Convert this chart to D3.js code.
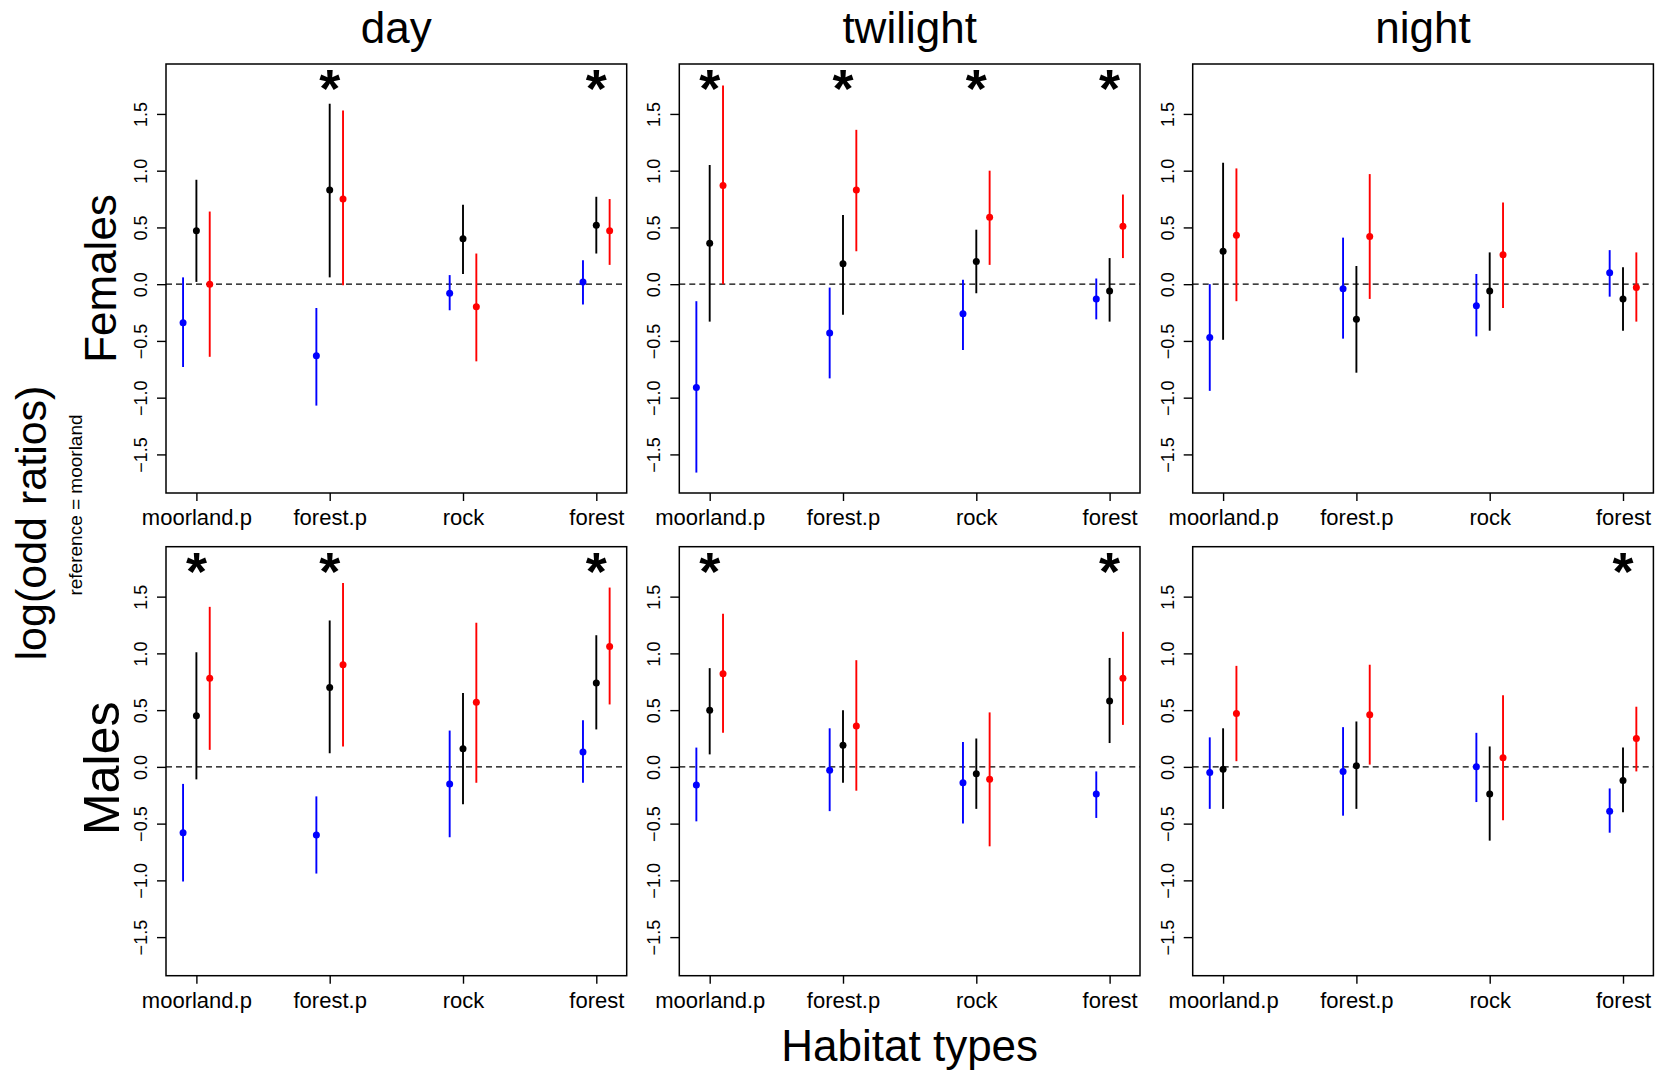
<!DOCTYPE html>
<html>
<head>
<meta charset="utf-8">
<script src="https://d3js.org/d3.v7.min.js"></script>
<style>
  body { margin: 0; background: #fff; }
  svg text { font-family: "Liberation Sans", Arial, Helvetica, sans-serif; fill: #000; }
</style>
</head>
<body>
<div id="vis"></div>
<script>
// categories
var habitats = ["moorland.p", "forest.p", "rock", "forest"];
var periods = ["day", "twilight", "night"];
var sexes = ["Females", "Males"];
var yTicks = [-1.5, -1.0, -0.5, 0.0, 0.5, 1.0, 1.5];

// each panel: three series (blue, black, red), one [estimate, lower, upper] per habitat
var femDay = [
  [[-0.34, -0.73, 0.06], [-0.63, -1.07, -0.21], [-0.08, -0.23, 0.08], [0.02, -0.18, 0.21]],
  [[0.47, 0.02, 0.92], [0.83, 0.06, 1.59], [0.40, 0.09, 0.70], [0.52, 0.27, 0.77]],
  [[0.00, -0.64, 0.64], [0.75, -0.01, 1.53], [-0.20, -0.68, 0.27], [0.47, 0.17, 0.75]]
];
var femTwilight = [
  [[-0.91, -1.66, -0.15], [-0.43, -0.83, -0.03], [-0.26, -0.58, 0.04], [-0.13, -0.31, 0.05]],
  [[0.36, -0.33, 1.05], [0.18, -0.27, 0.61], [0.20, -0.08, 0.48], [-0.06, -0.33, 0.23]],
  [[0.87, 0.00, 1.75], [0.83, 0.29, 1.36], [0.59, 0.17, 1.00], [0.51, 0.23, 0.79]]
];
var femNight = [
  [[-0.47, -0.94, 0.00], [-0.04, -0.48, 0.41], [-0.19, -0.46, 0.09], [0.10, -0.11, 0.30]],
  [[0.29, -0.49, 1.07], [-0.31, -0.78, 0.16], [-0.06, -0.41, 0.28], [-0.13, -0.41, 0.15]],
  [[0.43, -0.15, 1.02], [0.42, -0.13, 0.97], [0.26, -0.21, 0.72], [-0.03, -0.33, 0.28]]
];
var maleDay = [
  [[-0.58, -1.01, -0.15], [-0.60, -0.94, -0.26], [-0.15, -0.62, 0.32], [0.13, -0.14, 0.41]],
  [[0.45, -0.11, 1.01], [0.70, 0.12, 1.29], [0.16, -0.33, 0.65], [0.74, 0.33, 1.16]],
  [[0.78, 0.15, 1.41], [0.90, 0.18, 1.62], [0.57, -0.14, 1.27], [1.06, 0.55, 1.58]]
];
var maleTwilight = [
  [[-0.16, -0.48, 0.17], [-0.03, -0.39, 0.34], [-0.14, -0.50, 0.22], [-0.24, -0.45, -0.04]],
  [[0.50, 0.11, 0.87], [0.19, -0.14, 0.50], [-0.06, -0.37, 0.25], [0.58, 0.21, 0.96]],
  [[0.82, 0.30, 1.35], [0.36, -0.21, 0.94], [-0.11, -0.70, 0.48], [0.78, 0.37, 1.19]]
];
var maleNight = [
  [[-0.05, -0.37, 0.26], [-0.04, -0.43, 0.35], [0.00, -0.31, 0.30], [-0.39, -0.58, -0.19]],
  [[-0.02, -0.37, 0.34], [0.01, -0.37, 0.40], [-0.24, -0.65, 0.18], [-0.12, -0.40, 0.17]],
  [[0.47, 0.05, 0.89], [0.46, 0.02, 0.90], [0.08, -0.47, 0.63], [0.25, -0.04, 0.53]]
];

// habitats marked with an asterisk in each panel
var femDayStars = ["forest.p", "forest"];
var femTwilightStars = ["moorland.p", "forest.p", "rock", "forest"];
var femNightStars = [];
var maleDayStars = ["moorland.p", "forest.p", "forest"];
var maleTwilightStars = ["moorland.p", "forest"];
var maleNightStars = ["forest"];

var panelData = [[femDay, femTwilight, femNight], [maleDay, maleTwilight, maleNight]];
var panelStars = [[femDayStars, femTwilightStars, femNightStars], [maleDayStars, maleTwilightStars, maleNightStars]];

var seriesColors = ["#0000ff", "#000000", "#ff0000"];
var seriesOffset = [-0.1, 0, 0.1];

var W = 1655, H = 1070;
var panelW = 460.7, panelH = 429;
var lefts = [166, 679.3, 1192.7];
var tops = [64, 546.7];

var svg = d3.select("#vis").append("svg")
    .attr("width", W)
    .attr("height", H);

// R-style 4% padding around xlim = c(0.9, 4.1), ylim = c(-1.7, 1.8)
var xDom = [0.9, 4.1], yDom = [-1.7, 1.8];
var xPad = (xDom[1] - xDom[0]) * 0.04, yPad = (yDom[1] - yDom[0]) * 0.04;

sexes.forEach(function(sex, r) {
  periods.forEach(function(period, c) {
    var x = d3.scaleLinear()
        .domain([xDom[0] - xPad, xDom[1] + xPad])
        .range([0, panelW]);
    var y = d3.scaleLinear()
        .domain([yDom[0] - yPad, yDom[1] + yPad])
        .range([panelH, 0]);

    var g = svg.append("g")
        .attr("transform", "translate(" + lefts[c] + "," + tops[r] + ")");

    // x axis
    var xAxis = g.append("g")
        .attr("transform", "translate(0," + panelH + ")")
        .call(d3.axisBottom(x)
            .tickValues([1, 2, 3, 4])
            .tickSize(8)
            .tickPadding(0)
            .tickFormat(function(d) { return habitats[d - 1]; }));
    xAxis.select(".domain").remove();
    xAxis.selectAll("line").attr("stroke", "#000").attr("stroke-width", 1.4);
    xAxis.selectAll("text")
        .attr("y", 32)
        .attr("dy", null)
        .style("font-size", "22px")
        .style("font-family", "'Liberation Sans', Arial, sans-serif");

    // y axis
    var yAxis = g.append("g")
        .call(d3.axisLeft(y)
            .tickValues(yTicks)
            .tickSize(9)
            .tickFormat(d3.format(".1f")));
    yAxis.select(".domain").remove();
    yAxis.selectAll("line").attr("stroke", "#000").attr("stroke-width", 1.4);
    yAxis.selectAll("text")
        .attr("x", null)
        .attr("dy", null)
        .attr("text-anchor", "middle")
        .attr("transform", "translate(-19,0) rotate(-90)")
        .style("font-size", "18px")
        .style("font-family", "'Liberation Sans', Arial, sans-serif");

    // reference line at 0
    g.append("line")
        .attr("x1", 0).attr("x2", panelW)
        .attr("y1", y(0)).attr("y2", y(0))
        .attr("stroke", "#000")
        .attr("stroke-width", 1.4)
        .attr("stroke-dasharray", "6,4");

    // error bars and points
    var rows = [];
    panelData[r][c].forEach(function(series, s) {
      series.forEach(function(v, h) {
        rows.push({s: s, h: h, est: v[0], lo: v[1], hi: v[2]});
      });
    });

    g.selectAll(".bar")
        .data(rows)
        .enter()
        .append("line")
        .attr("class", "bar")
        .attr("x1", function(d) { return x(d.h + 1 + seriesOffset[d.s]); })
        .attr("x2", function(d) { return x(d.h + 1 + seriesOffset[d.s]); })
        .attr("y1", function(d) { return y(d.lo); })
        .attr("y2", function(d) { return y(d.hi); })
        .attr("stroke", function(d) { return seriesColors[d.s]; })
        .attr("stroke-width", 1.9);

    g.selectAll(".pt")
        .data(rows)
        .enter()
        .append("circle")
        .attr("class", "pt")
        .attr("cx", function(d) { return x(d.h + 1 + seriesOffset[d.s]); })
        .attr("cy", function(d) { return y(d.est); })
        .attr("r", 3.5)
        .attr("fill", function(d) { return seriesColors[d.s]; });

    // significance asterisks
    g.selectAll(".star")
        .data(panelStars[r][c])
        .enter()
        .append("text")
        .attr("class", "star")
        .attr("x", function(d) { return x(habitats.indexOf(d) + 1); })
        .attr("y", y(1.8) + 27)
        .attr("text-anchor", "middle")
        .style("font-size", "54px")
        .style("font-weight", "bold")
        .text("*");

    // box
    g.append("rect")
        .attr("width", panelW)
        .attr("height", panelH)
        .attr("fill", "none")
        .attr("stroke", "#000")
        .attr("stroke-width", 1.5);

    // column titles
    if (r == 0) {
      svg.append("text")
          .attr("x", lefts[c] + panelW / 2)
          .attr("y", 43)
          .attr("text-anchor", "middle")
          .style("font-size", "44px")
          .text(period);
    }
  });
});

// row labels
svg.append("text")
    .attr("transform", "translate(116," + (tops[0] + panelH / 2) + ") rotate(-90)")
    .attr("text-anchor", "middle")
    .style("font-size", "44px")
    .text(sexes[0]);

svg.append("text")
    .attr("transform", "translate(119," + (tops[1] + panelH / 2 + 7) + ") rotate(-90)")
    .attr("text-anchor", "middle")
    .style("font-size", "50px")
    .text(sexes[1]);

// outer labels
svg.append("text")
    .attr("transform", "translate(46,523) rotate(-90)")
    .attr("text-anchor", "middle")
    .style("font-size", "43px")
    .text("log(odd ratios)");

svg.append("text")
    .attr("transform", "translate(82,505) rotate(-90)")
    .attr("text-anchor", "middle")
    .style("font-size", "19px")
    .text("reference = moorland");

svg.append("text")
    .attr("x", lefts[0] + (lefts[2] + panelW - lefts[0]) / 2)
    .attr("y", 1061)
    .attr("text-anchor", "middle")
    .style("font-size", "44px")
    .text("Habitat types");
</script>
</body>
</html>
